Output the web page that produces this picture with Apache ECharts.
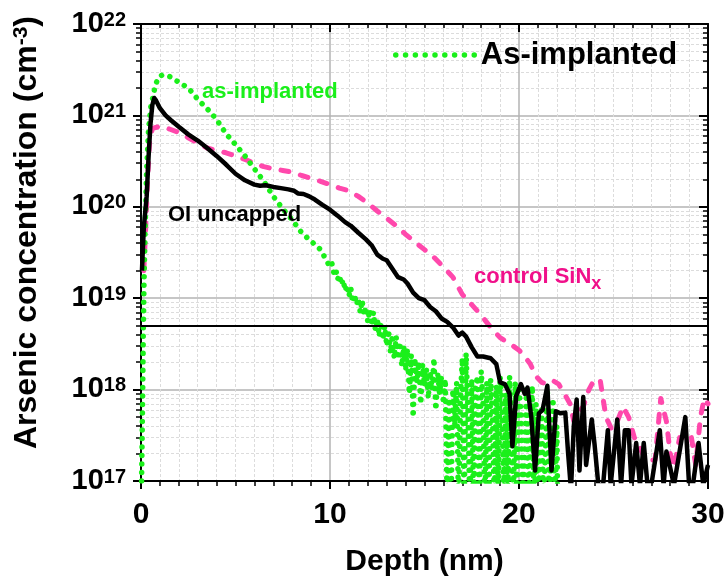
<!DOCTYPE html>
<html>
<head>
<meta charset="utf-8">
<script src="https://cdn.jsdelivr.net/npm/echarts@6/dist/echarts.min.js"></script>
<style>
html,body{margin:0;padding:0;background:#fff;}
#chart{width:725px;height:581px;}
</style>
</head>
<body>
<div id="chart"></div>
<script>
// ---------- DATA ----------
const xTicks = [0, 10, 20, 30];
const yDecades = [1e17, 1e18, 1e19, 1e20, 1e21, 1e22];
const yMinor = [2e17,3e17,4e17,5e17,6e17,7e17,8e17,9e17,
  2e18,3e18,4e18,5e18,6e18,7e18,8e18,9e18,
  2e19,3e19,4e19,5e19,6e19,7e19,8e19,9e19,
  2e20,3e20,4e20,5e20,6e20,7e20,8e20,9e20,
  2e21,3e21,4e21,5e21,6e21,7e21,8e21,9e21];
const thresholdLevel = 5e18;

// OI uncapped (black)
const blackDepth = [0.05,0.15,0.3,0.4,0.5,0.6,0.7,0.8,1.0,1.3,1.6,2.0,2.5,3.0,3.5,4.0,4.5,5.0,5.5,6.0,6.3,6.6,7.0,7.4,7.8,8.1,8.3,8.6,8.9,9.2,9.6,10.0,10.4,10.8,11.1,11.5,11.9,12.2,12.5,12.8,13.0,13.3,13.6,13.9,14.1,14.4,14.7,15.0,15.3,15.6,15.9,16.2,16.5,16.8,17.0,17.2,17.5,17.8,18.1,18.5,18.8,19.0,19.25,19.5,19.65,19.85,20.1,20.3,20.45,20.65,20.85,21.05,21.25,21.5,21.72,21.95,22.2,22.45,22.6,22.75,22.9,23.05,23.2,23.4,23.55,23.85,24.0,24.2,24.45,24.7,24.85,25.2,25.4,25.6,25.8,25.95,26.2,26.4,26.6,26.8,27.0,27.45,27.65,27.8,28.0,28.2,28.8,29.0,29.2,29.5,29.75,30.0];
const blackConc = [2e19,6e19,1.3e20,3.5e20,8e20,1.3e21,1.55e21,1.45e21,1.2e21,1.0e21,8.8e20,7.5e20,6.2e20,5.3e20,4.4e20,3.6e20,2.9e20,2.3e20,1.95e20,1.75e20,1.7e20,1.72e20,1.65e20,1.6e20,1.55e20,1.5e20,1.4e20,1.38e20,1.3e20,1.2e20,1.05e20,9.3e19,8.0e19,6.8e19,6.2e19,5.2e19,4.4e19,3.8e19,3.0e19,2.7e19,2.6e19,2.1e19,1.7e19,1.6e19,1.45e19,1.15e19,1.0e19,9.5e18,8.0e18,7.2e18,6.0e18,5.5e18,4.8e18,3.9e18,4.2e18,3.8e18,2.9e18,2.3e18,2.3e18,2.2e18,1.9e18,1.2e18,1.15e18,9e17,2.4e17,8.5e17,1.15e18,9e17,1.05e18,5e17,1.3e17,5.5e17,6e17,1.1e18,1.3e17,5.8e17,5.5e17,5.6e17,2e17,8e16,4e17,7.8e17,1.3e17,8.3e17,1.5e17,4.7e17,2.5e17,9e16,9e16,3.6e17,9e16,4.7e17,9e16,3.6e17,3.6e17,9e16,2.6e17,9e16,2.6e17,9e16,9e16,3.6e17,9e16,2.1e17,1.4e17,9e16,5e17,9e16,9e16,2.6e17,9e16,1.5e17];

// control SiNx (pink)
const pinkDepth = [0.15,0.25,0.35,0.45,0.6,1.0,1.5,2.0,2.5,3.0,3.5,4.0,4.5,5.0,5.5,6.0,6.5,7.0,7.5,8.0,8.5,9.0,9.5,10.0,10.5,11.0,11.5,12.0,12.5,13.0,13.5,14.0,14.5,15.0,15.5,16.0,16.5,17.0,17.5,18.0,18.5,19.0,19.5,20.0,20.3,20.6,20.9,21.2,21.5,21.8,22.1,22.4,22.7,22.9,23.1,23.4,23.7,24.0,24.3,24.6,24.9,25.2,25.5,25.8,26.1,26.4,26.7,26.9,27.2,27.5,27.8,28.0,28.2,28.5,28.8,29.1,29.35,29.6,29.8,30.0];
const pinkConc = [2e19,6e19,2e20,5e20,7.2e20,7.6e20,7.1e20,6.5e20,5.7e20,5.0e20,4.4e20,4.1e20,3.9e20,3.6e20,3.3e20,3.0e20,2.75e20,2.6e20,2.5e20,2.4e20,2.2e20,2.05e20,1.9e20,1.75e20,1.6e20,1.5e20,1.3e20,1.1e20,9e19,7.5e19,6.2e19,5e19,4.1e19,3.4e19,2.8e19,2.2e19,1.7e19,1.1e19,8.5e18,6.5e18,4.8e18,3.7e18,3.2e18,2.7e18,2.3e18,1.9e18,1.4e18,1.2e18,1.15e18,1.25e18,1.15e18,9e17,7e17,4.5e17,5.5e17,6.5e17,1e18,1.3e18,1.25e18,5e17,3.7e17,4.5e17,6.5e17,5e17,3e17,2.3e17,1.7e17,1.7e17,1.7e17,8e17,4.5e17,2e17,1.4e17,3e17,3e17,3.2e17,1.5e17,5e17,8e17,7e17];

// As-implanted (green)
const greenDepth = [0.03,0.06,0.09,0.12,0.16,0.22,0.3,0.4,0.52,0.65,0.75,0.9,1.1,1.3,1.55,1.8,2.1,2.4,2.7,3.0,3.3,3.65,4.0,4.5,5.0,5.5,6.0,6.5,7.0,7.5,8.0,8.5,9.0,9.5,10.0,
  10.1,10.2,10.3,10.4,10.5,10.6,10.7,10.8,10.9,11.0,11.1,11.2,11.3,11.4,11.5,11.6,11.7,11.8,11.9,12.0,12.1,12.2,12.3,12.4,12.5,12.6,12.7,12.8,12.9,13.0,13.1,13.2,13.3,13.4,13.5,13.6,13.7,13.8,13.9,14.0,14.1,14.2,14.3,14.4,14.5,14.6,14.7,14.8,14.9,15.0,15.1,15.2,15.3,15.4,15.5,15.6,15.7,15.8,15.9,16.0,16.1,16.2,16.3,16.4,16.5,16.6,16.7,16.8,16.9,17.0,17.1,17.2,17.3,17.4,17.5,17.6,17.7,17.8,17.9,18.0,18.1,18.2,18.3,18.4,18.5,18.6,18.7,18.8,18.9,19.0,19.1,19.2,19.3,19.4,19.5,19.6,19.7,19.8,19.9,20.0,20.1,20.2,20.4,20.5,20.7,20.8,20.9,21.0,21.2,21.3,21.5,21.6,21.8,21.9,22.0,22.05];
const greenConc = [1e17,3e17,1e18,4e18,1.5e19,6e19,2.5e20,7e20,1.25e21,1.66e21,2.1e21,2.55e21,2.75e21,2.75e21,2.65e21,2.45e21,2.25e21,2.05e21,1.8e21,1.5e21,1.3e21,1.1e21,9e20,6.3e20,4.8e20,3.6e20,2.6e20,1.9e20,1.3e20,9.5e19,7.2e19,5.2e19,4.2e19,3.4e19,2.2e19,
  2.4e19,1.9e19,2.1e19,1.6e19,1.8e19,1.4e19,1.6e19,1.2e19,1.4e19,1.05e19,1.3e19,9e18,1.1e19,8.5e18,1.0e19,7e18,9.5e18,6.5e18,8e18,5.5e18,7.5e18,5e18,7e18,4.5e18,6e18,3.8e18,5.5e18,3.5e18,5e18,3e18,4.5e18,2.5e18,4e18,2.2e18,3.8e18,2.4e18,3.3e18,1.8e18,3e18,1.6e18,2.8e18,9e17,2.4e18,5e17,2.2e18,1.2e18,2e18,7e17,1.9e18,1.1e18,1.7e18,8e17,1.6e18,1e18,2.2e18,6e17,1.5e18,9e17,1.4e18,7e17,1.3e18,5e16,8e17,5e16,1e18,4e17,1.2e18,5e16,8e17,2.2e18,5e16,2.5e18,6e17,5e16,1.3e18,5e16,1e18,1.4e18,5e16,1.6e18,7e17,5e16,1.2e18,5e16,1.3e18,5e17,5e16,1.1e18,5e16,1.4e18,8e17,5e16,9e17,5e16,1.4e18,3e17,5e16,1.2e18,5e16,1e18,6e17,5e16,1e18,5e16,1.1e18,5e16,7e17,5e16,6e17,5e16,1e18,5e16,8e17,5e16,4e17,5e16];

const legendName = 'As-implanted';
const yTitleMain = 'Arsenic concentration (cm';
const yTitleSup = '-3';
const xTitle = 'Depth (nm)';

// ---------- STYLE ----------
const FONT = '"Liberation Sans", Arial, Helvetica, sans-serif';
const GREEN = '#1aef1a';
const PINK_LINE = '#ff48ac';
const PINK_TEXT = '#f0108a';
const MAJOR_GRID = '#b3b3b3';
const MINOR_GRID = '#dcdcdc';

const pair = (xs, ys) => xs.map((x, i) => [x, ys[i]]);
const expOf = v => Math.round(Math.log10(v));

const chart = echarts.init(document.getElementById('chart'), null, {renderer: 'canvas'});

const axisLineStyle = {color: '#000', width: 2};

const option = {
  animation: false,
  backgroundColor: '#fff',
  grid: {left: 141, right: 17, top: 24, bottom: 100, containLabel: false, outerBoundsMode: 'none'},
  legend: {
    show: true,
    data: [legendName],
    orient: 'horizontal',
    left: 393, top: 39,
    itemWidth: 80, itemHeight: 14, padding: 0, itemGap: 0,
    textStyle: {fontFamily: FONT, fontSize: 31, fontWeight: 'bold', color: '#000', lineHeight: 32},
    lineStyle: {color: GREEN, width: 5.5, type: [0.01, 9.8], cap: 'round'},
    itemStyle: {opacity: 0},
    selectedMode: false
  },
  xAxis: [
    {
      type: 'value', min: 0, max: 30, interval: 10, position: 'bottom',
      axisLine: {onZero: false, lineStyle: axisLineStyle},
      axisTick: {show: true, inside: false, length: 8, lineStyle: {color: '#000', width: 2}},
      minorTick: {show: true, splitNumber: 10, length: 5, lineStyle: {color: '#000', width: 1.5}},
      axisLabel: {fontFamily: FONT, fontSize: 30, fontWeight: 'bold', color: '#000', margin: 19},
      splitLine: {show: true, lineStyle: {color: MAJOR_GRID, width: 1.5}},
      minorSplitLine: {show: true, lineStyle: {color: MINOR_GRID, width: 1, type: [3, 2]}},
      name: xTitle, nameLocation: 'middle', nameGap: 66,
      nameTextStyle: {fontFamily: FONT, fontSize: 30, fontWeight: 'bold', color: '#000'}
    },
    {
      type: 'value', min: 0, max: 30, interval: 10, position: 'top',
      axisLine: {onZero: false, lineStyle: axisLineStyle},
      axisTick: {show: true, inside: true, length: 8, lineStyle: {color: '#000', width: 2}},
      minorTick: {show: true, splitNumber: 10, length: 4, lineStyle: {color: '#000', width: 1.5}},
      axisLabel: {show: false},
      splitLine: {show: false}
    }
  ],
  yAxis: [
    {
      type: 'log', logBase: 10, min: 1e17, max: 1e22, position: 'left',
      axisLine: {onZero: false, lineStyle: axisLineStyle},
      axisTick: {show: true, inside: false, length: 8, lineStyle: {color: '#000', width: 2}, customValues: yDecades},
      axisLabel: {
        customValues: yDecades,
        margin: 15,
        formatter: v => '{b|10}{s|' + expOf(v) + '}',
        rich: {
          b: {fontFamily: FONT, fontSize: 29, fontWeight: 'bold', color: '#000', lineHeight: 30, verticalAlign: 'top'},
          s: {fontFamily: FONT, fontSize: 20, fontWeight: 'bold', color: '#000', lineHeight: 20, verticalAlign: 'top', padding: [1, 0, 0, 0]}
        }
      },
      splitLine: {show: true, lineStyle: {color: MAJOR_GRID, width: 1.5}},
      name: '{t|' + yTitleMain + '}{s|' + yTitleSup + '}{t|)}',
      nameLocation: 'middle', nameGap: 96, nameRotate: 90,
      nameTextStyle: {
        padding: [0, 0, 0, 40],
        rich: {
          t: {fontFamily: FONT, fontSize: 32, fontWeight: 'bold', color: '#000', lineHeight: 34, verticalAlign: 'top'},
          s: {fontFamily: FONT, fontSize: 21, fontWeight: 'bold', color: '#000', lineHeight: 21, verticalAlign: 'top'}
        }
      }
    },
    {
      type: 'log', logBase: 10, min: 1e17, max: 1e22, position: 'left',
      axisLine: {show: false, onZero: false},
      axisTick: {show: true, inside: false, length: 5, lineStyle: {color: '#000', width: 1.5}, customValues: yMinor},
      axisLabel: {show: false, customValues: yMinor},
      splitLine: {show: true, lineStyle: {color: MINOR_GRID, width: 1, type: [3, 2]}}
    },
    {
      type: 'log', logBase: 10, min: 1e17, max: 1e22, position: 'right',
      axisLine: {onZero: false, lineStyle: axisLineStyle},
      axisTick: {show: true, inside: true, length: 9, lineStyle: {color: '#000', width: 2}, customValues: yDecades},
      axisLabel: {show: false, customValues: yDecades},
      splitLine: {show: false}
    },
    {
      type: 'log', logBase: 10, min: 1e17, max: 1e22, position: 'right',
      axisLine: {show: false, onZero: false},
      axisTick: {show: true, inside: true, length: 5, lineStyle: {color: '#000', width: 1.5}, customValues: yMinor},
      axisLabel: {show: false, customValues: yMinor},
      splitLine: {show: false}
    }
  ],
  series: [
    {
      name: 'control SiNx', type: 'line', xAxisIndex: 0, yAxisIndex: 0,
      data: pair(pinkDepth, pinkConc), symbol: 'none', clip: true, z: 2,
      lineStyle: {color: PINK_LINE, width: 5, type: [8, 12], cap: 'round', join: 'round'}
    },
    {
      name: legendName, type: 'line', xAxisIndex: 0, yAxisIndex: 0,
      data: pair(greenDepth, greenConc), symbol: 'none', clip: true, z: 3,
      lineStyle: {color: GREEN, width: 5.5, type: [0.01, 8.5], cap: 'round', join: 'round'}
    },
    {
      name: 'OI uncapped', type: 'line', xAxisIndex: 0, yAxisIndex: 0,
      data: pair(blackDepth, blackConc), symbol: 'none', clip: true, z: 4,
      lineStyle: {color: '#000', width: 4.5, join: 'round'},
      markLine: {
        silent: true, symbol: 'none', label: {show: false},
        lineStyle: {color: '#000', width: 2, type: 'solid'},
        data: [{yAxis: thresholdLevel}]
      }
    }
  ],
  graphic: [
    {type: 'text', x: 202, y: 92, z: 10, style: {text: 'as-implanted', fill: GREEN, font: 'bold 22px ' + FONT, verticalAlign: 'middle'}},
    {type: 'text', x: 168, y: 215, z: 10, style: {text: 'OI uncapped', fill: '#000', font: 'bold 22px ' + FONT, verticalAlign: 'middle'}},
    {type: 'text', x: 474, y: 266, z: 10, style: {
      text: '{a|control SiN}{b|x}',
      rich: {
        a: {fontFamily: FONT, fontSize: 22, fontWeight: 'bold', fill: PINK_TEXT, lineHeight: 22, verticalAlign: 'top'},
        b: {fontFamily: FONT, fontSize: 18, fontWeight: 'bold', fill: PINK_TEXT, lineHeight: 18, verticalAlign: 'top', padding: [9, 0, 0, 0]}
      }
    }}
  ]
};

chart.setOption(option);
</script>
</body>
</html>
